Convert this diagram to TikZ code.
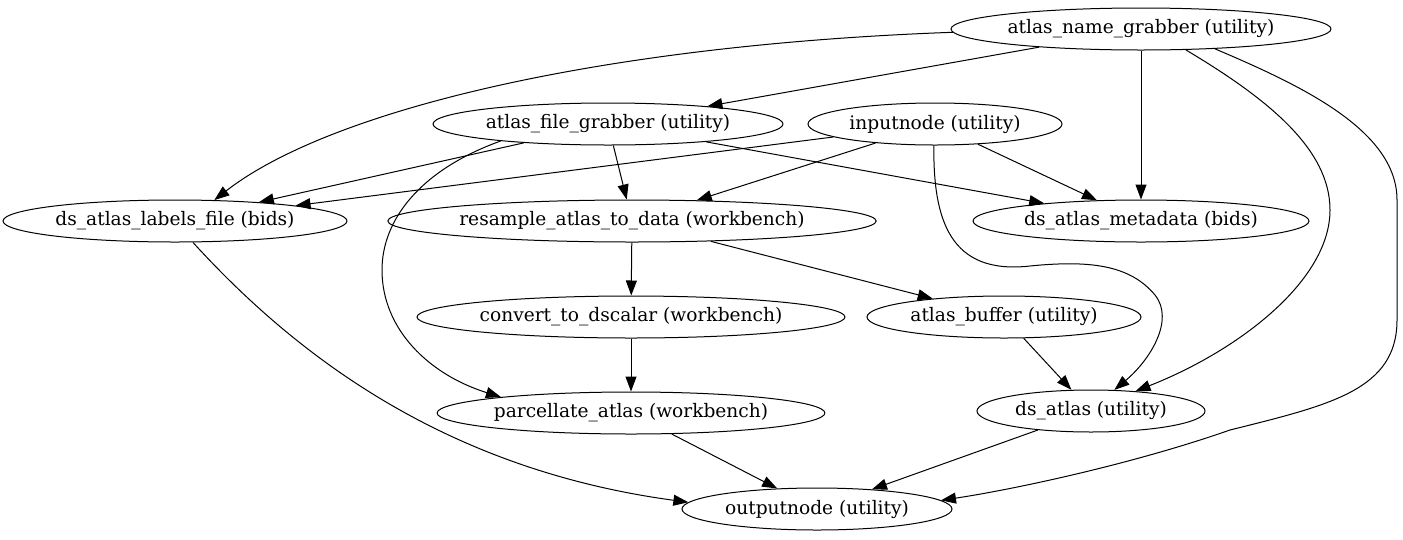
\documentclass[tikz,border=0pt]{standalone}
\usepackage{fontspec}
\setmainfont{DejaVu Serif}
\usetikzlibrary{shapes.geometric,arrows.meta}
\begin{document}
\begin{tikzpicture}[x=1pt,y=-1pt,
  nd/.style={draw,ellipse,inner sep=0pt,line width=1pt,font=\fontsize{18.6}{22}\selectfont,minimum height=42pt},
  ed/.style={draw,line width=1pt,-{Triangle[length=15pt,width=11pt]}}]
\useasboundingbox (0,0) rectangle (1403,539);
\node[nd,minimum width=380pt] (ang) at (1141,29) {atlas\_name\_grabber (utility)};
\node[nd,minimum width=350pt] (afg) at (608,124) {atlas\_file\_grabber (utility)};
\node[nd,minimum width=254pt] (inp) at (935,124) {inputnode (utility)};
\node[nd,minimum width=344pt] (dalf) at (175,221) {ds\_atlas\_labels\_file (bids)};
\node[nd,minimum width=424pt] (res) at (632,221) {resample\_atlas\_to\_data (workbench)};
\node[nd,minimum width=336pt] (dam) at (1141,221) {ds\_atlas\_metadata (bids)};
\node[nd,minimum width=420pt] (cds) at (631,317) {convert\_to\_dscalar (workbench)};
\node[nd,minimum width=274pt] (ab) at (1004,317) {atlas\_buffer (utility)};
\node[nd,minimum width=386pt] (pa) at (631,413) {parcellate\_atlas (workbench)};
\node[nd,minimum width=228pt] (dsa) at (1091,411) {ds\_atlas (utility)};
\node[nd,minimum width=270pt] (out) at (817,509) {outputnode (utility)};

\draw[ed] (ang.181) .. controls (600,45) and (330,110) .. (dalf.28);
\draw[ed] (ang) -- (afg);
\draw[ed] (ang) -- (dam);
\draw[ed] (ang.-25) .. controls (1270,100) and (1330,150) .. (1330,210) .. controls (1330,280) and (1240,350) .. (dsa.24);
\draw[ed] (ang.-15) .. controls (1300,85) and (1397,130) .. (1397,200) -- (1397,320) .. controls (1397,390) and (1330,405) .. (1230,430) .. controls (1130,465) and (1010,490) .. (out.4);
\draw[ed] (afg) -- (dalf);
\draw[ed] (afg) -- (res);
\draw[ed] (afg) -- (dam);
\draw[ed] (afg.189) .. controls (420,170) and (382,220) .. (382,270) .. controls (382,330) and (430,375) .. (pa.173);
\draw[ed] (inp) -- (dalf);
\draw[ed] (inp) -- (res);
\draw[ed] (inp) -- (dam);
\draw[ed] (inp.-93) .. controls (933,220) and (950,275) .. (1030,266) .. controls (1090,260) and (1130,265) .. (1155,295) .. controls (1175,320) and (1150,360) .. (dsa.42);
\draw[ed] (dalf.-50) .. controls (300,360) and (450,470) .. (out.177);
\draw[ed] (res) -- (cds);
\draw[ed] (res) -- (ab);
\draw[ed] (cds) -- (pa);
\draw[ed] (ab) -- (dsa);
\draw[ed] (pa) -- (out);
\draw[ed] (dsa) -- (out);
\end{tikzpicture}
\end{document}
